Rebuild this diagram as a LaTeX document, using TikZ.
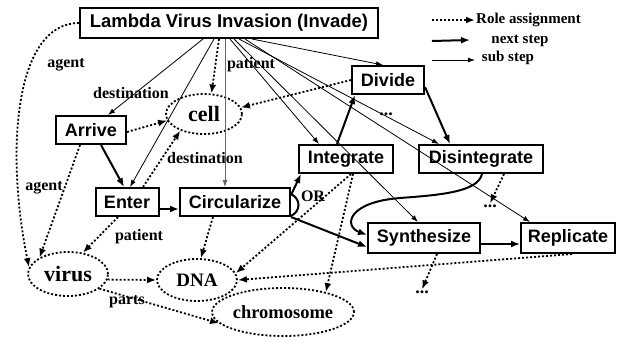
\documentclass[tikz,border=0pt]{standalone}
\usepackage{fontspec}
\setmainfont{Liberation Serif}
\newfontfamily\boxfont{Liberation Sans}
\usetikzlibrary{arrows.meta,shapes.geometric,calc,positioning}
\tikzset{>={Latex[length=9pt,width=7pt]}}
\tikzset{
	actbox/.style={draw, line width=2pt, inner xsep=4pt, inner ysep=0pt, minimum height=28pt, font=\boxfont\bfseries\fontsize{18}{20}\selectfont},
	obj/.style={draw, ellipse, line width=1.8pt, dash pattern=on 2pt off 2pt, inner sep=0pt, font=\bfseries\fontsize{19}{21}\selectfont},
	role/.style={->, line width=1.8pt, dash pattern=on 2pt off 2pt},
	nextstep/.style={->, line width=2pt},
	substep/.style={-{Latex[length=7pt,width=5pt]}, line width=0.8pt},
	lbl/.style={font=\bfseries\fontsize{16}{18}\selectfont, inner sep=1pt},
	dots/.style={font=\bfseries\fontsize{18}{20}\selectfont, inner sep=1pt}
}
\begin{document}
\begin{tikzpicture}[x=1pt,y=-1pt]
		\useasboundingbox (0,0) rectangle (626,341);
		% steps
		\node[actbox, minimum width=298pt, minimum height=30pt, font=\boxfont\bfseries\fontsize{18.5}{20}\selectfont] (invade) at (229,23) {Lambda Virus Invasion (Invade)};
		\node[actbox, minimum width=70pt] (arrive) at (91,130) {Arrive};
		\node[actbox, minimum width=63pt] (enter) at (127,202) {Enter};
		\node[actbox, minimum width=110pt] (circ) at (235,202) {Circularize};
		\node[actbox, minimum width=94pt] (integrate) at (346,159) {Integrate};
		\node[actbox, minimum width=124pt] (disint) at (481,159) {Disintegrate};
		\node[actbox, minimum width=72pt] (divide) at (388,80) {Divide};
		\node[actbox, minimum width=112pt, minimum height=30pt] (synth) at (424,238) {Synthesize};
		\node[actbox, minimum width=94pt, minimum height=30pt] (repl) at (568,238) {Replicate};
		% participants
		\node[obj, minimum width=76pt, minimum height=40pt, font=\bfseries\fontsize{22}{24}\selectfont] (cell) at (204,114) {cell};
		\node[obj, minimum width=80pt, minimum height=44pt, font=\bfseries\fontsize{22}{24}\selectfont] (virus) at (68,274) {virus};
		\node[obj, minimum width=80pt, minimum height=42pt] (dna) at (197,280) {DNA};
		\node[obj, minimum width=120pt, minimum height=48pt, font=\bfseries\fontsize{18.5}{20}\selectfont] (chromo) at (283,312) {chromosome};
		\node[dots] (dots1) at (386,114) {...};
		\node[dots] (dots2) at (490,206) {...};
		\node[dots] (dots3) at (422,292) {...};
		% sub steps
		\draw[substep] ([xshift=-26pt]invade.south) -- ([xshift=17pt]arrive.north);
		\draw[substep] ([xshift=-15pt]invade.south) -- ([xshift=3pt]enter.north);
		\draw[substep, black!60] ([xshift=-4pt]invade.south) -- ([xshift=-10pt]circ.north);
		\draw[substep] ([xshift=1pt]invade.south) -- ([xshift=-27pt]integrate.north);
		\draw[substep] ([xshift=5pt]invade.south) -- ([xshift=-6pt]synth.north);
		\draw[substep] ([xshift=10pt]invade.south) -- ([xshift=-42pt]disint.north);
		\draw[substep] ([xshift=16pt]invade.south) -- ([xshift=-38pt]repl.north);
		\draw[substep] ([xshift=23pt]invade.south) -- ([xshift=-5pt]divide.north);
		% next steps
		\draw[nextstep] ([xshift=10pt]arrive.south) -- ([xshift=-3pt]enter.north);
		\draw[nextstep] ([yshift=-7pt]enter.east) -- ([yshift=-7pt]circ.west);
		\draw[nextstep] ([yshift=7pt]circ.east) -- ([xshift=3pt]integrate.south west);
		\draw[nextstep] (circ.south east) -- ([yshift=-9pt]synth.west);
		\draw[nextstep] ([xshift=-9pt]integrate.north) -- ([xshift=-33pt]divide.south);
		\draw[nextstep] ([yshift=-7pt]divide.east) -- ([xshift=-31pt]disint.north);
		\draw[nextstep] ([xshift=1pt]disint.south) .. controls (478,192) and (440,195) .. (400,198) .. controls (348,202) and (343,226) .. ([yshift=3pt]synth.west);
		\draw[nextstep, line width=1.6pt] ([yshift=-6pt]synth.east) -- ([yshift=-6pt]repl.west);
		\draw[line width=2pt] (291,194) .. controls (301,199) and (301,211) .. (291,216);
		% role assignments
		\draw[role] (invade.west) .. controls (15,23) and (5,150) .. (virus.170);
		\draw[role] ([xshift=-10pt]invade.south) -- (cell.70);
		\draw[role] (divide.west) -- (cell.10);
		\draw[role] ([yshift=-2pt]arrive.east) -- (cell.190);
		\draw[role] ([xshift=-11pt]arrive.south) -- (virus.150);
		\draw[role] ([xshift=16pt]enter.north) -- (cell.215);
		\draw[role] ([xshift=-9pt]enter.south) -- (virus.55);
		\draw[role] ([xshift=-22pt]circ.south) -- (dna.80);
		\draw[role] ([xshift=5pt]integrate.south) -- (dna.10);
		\draw[role] ([xshift=7pt]integrate.south) -- (chromo.25);
		\draw[role] ([xshift=4pt]repl.south) -- (dna.0);
		\draw[role] ([xshift=13pt]synth.south) -- (dots3.north);
		\draw[role] ([xshift=23pt]disint.south) -- (dots2.north);
		\draw[role] (virus.-8) -- (dna.west);
		\draw[role] (virus.-25) -- (chromo.190);
		% labels
		\node[lbl] at (66,65) {agent};
		\node[lbl] at (131,93) {destination};
		\node[lbl] at (251,65) {patient};
		\node[lbl] at (205,158) {destination};
		\node[lbl] at (44,188) {agent};
		\node[lbl] at (139,237) {patient};
		\node[lbl] at (127,302) {parts};
		\node[lbl] at (313,196) {OR};
		% legend
		\coordinate (role a) at (432,20);
		\coordinate (next a) at (432,41);
		\coordinate (next b) at (470,40);
		\coordinate (sub a) at (432,60);
		\coordinate (sub b) at (475,60);
		\node[lbl, anchor=west, font=\bfseries\fontsize{15}{17}\selectfont] (role) at (475,20) {Role assignment};
		\node[lbl, font=\bfseries\fontsize{15}{17}\selectfont] (next) at (520,41) {next step};
		\node[lbl, font=\bfseries\fontsize{15}{17}\selectfont] (sub) at (508,58) {sub step};
		\draw[role] (role a) -- (role.west);
		\draw[nextstep] (next a) -- (next b);
		\draw[substep] (sub a) -- (sub b);
	\end{tikzpicture}
\end{document}
